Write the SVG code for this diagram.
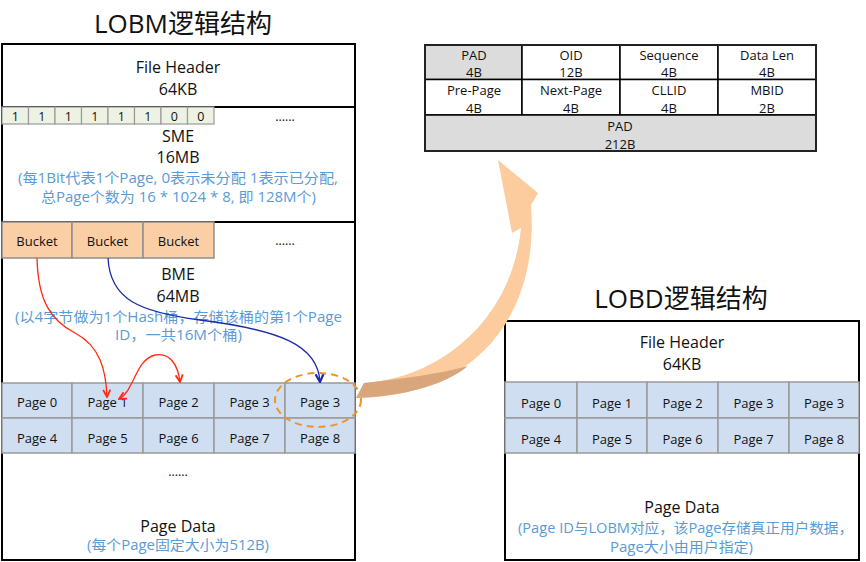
<svg xmlns="http://www.w3.org/2000/svg" width="866" height="562" viewBox="0 0 866 562">
<defs>
<style>
text{font-family:"Open Sans","Noto Sans CJK SC",sans-serif;fill:#111;text-anchor:middle}
.t{font-size:26px}
.h{font-size:16px}
.p{font-size:13px}
.b{font-size:12.5px}
.bl{font-size:14px;fill:#5b9bd5}
.tb{font-size:13px}
.frame{fill:#fff;stroke:#000;stroke-width:2}
.sep{stroke:#000;stroke-width:2}
.pg{fill:#cfdff1;stroke:#9a9a9a;stroke-width:1.5}
.bk{fill:#fbcfa6;stroke:#8e8e8e;stroke-width:1.5}
.bit{fill:#eef2e2;stroke:#9a9a9a;stroke-width:1.2}
.cell{fill:#fff;stroke:#000;stroke-width:1.5}
.gray{fill:#dcdcdc;stroke:#000;stroke-width:1.5}
</style>
<marker id="mr" viewBox="0 0 10 10" refX="9" refY="5" markerWidth="9" markerHeight="9" orient="auto-start-reverse" markerUnits="userSpaceOnUse">
<path d="M1,1 L9,5 L1,9" fill="none" stroke="#ff2a12" stroke-width="2"/>
</marker>
<marker id="mb" viewBox="0 0 10 10" refX="9" refY="5" markerWidth="10" markerHeight="10" orient="auto" markerUnits="userSpaceOnUse">
<path d="M1,1 L9,5 L1,9" fill="none" stroke="#1a2aa8" stroke-width="2.2"/>
</marker>
</defs>

<g id="lobm">
<text class="t" x="183" y="33">LOBM逻辑结构</text>
<rect class="frame" x="2" y="44" width="353" height="516"/>
<line class="sep" x1="2" y1="107" x2="355" y2="107"/>
<line class="sep" x1="2" y1="222" x2="355" y2="222"/>
<text class="h" x="178" y="73">File Header</text>
<text class="h" x="178" y="95">64KB</text>
</g>

<g id="sme">
<rect class="bit" x="2" y="107" width="26.5" height="17"/>
<rect class="bit" x="28.5" y="107" width="26.5" height="17"/>
<rect class="bit" x="55" y="107" width="26.5" height="17"/>
<rect class="bit" x="81.5" y="107" width="26.5" height="17"/>
<rect class="bit" x="108" y="107" width="26.5" height="17"/>
<rect class="bit" x="134.5" y="107" width="26.5" height="17"/>
<rect class="bit" x="161" y="107" width="26.5" height="17"/>
<rect class="bit" x="187.5" y="107" width="26.5" height="17"/>
<text class="b" x="15.3" y="120.5">1</text>
<text class="b" x="41.8" y="120.5">1</text>
<text class="b" x="68.3" y="120.5">1</text>
<text class="b" x="94.8" y="120.5">1</text>
<text class="b" x="121.3" y="120.5">1</text>
<text class="b" x="147.8" y="120.5">1</text>
<text class="b" x="174.3" y="120.5">0</text>
<text class="b" x="200.8" y="120.5">0</text>
<text class="b" x="285" y="121">......</text>
<text class="h" x="178" y="142">SME</text>
<text class="h" x="178" y="163">16MB</text>
<text class="bl" x="178" y="183" textLength="320" lengthAdjust="spacingAndGlyphs">(每1Bit代表1个Page, 0表示未分配 1表示已分配,</text>
<text class="bl" x="178.5" y="202" textLength="275" lengthAdjust="spacingAndGlyphs">总Page个数为  16 * 1024 * 8, 即  128M个)</text>
</g>

<g id="bme">
<rect class="bk" x="2" y="222" width="70" height="36"/>
<rect class="bk" x="72" y="222" width="71" height="36"/>
<rect class="bk" x="143" y="222" width="71" height="36"/>
<text class="p" x="37" y="246">Bucket</text>
<text class="p" x="107.5" y="246">Bucket</text>
<text class="p" x="178.5" y="246">Bucket</text>
<text class="b" x="285" y="245">......</text>
<text class="h" x="178" y="280">BME</text>
<text class="h" x="178" y="302">64MB</text>
<text class="bl" x="178.5" y="322" textLength="327" lengthAdjust="spacingAndGlyphs">(以4字节做为1个Hash桶，存储该桶的第1个Page</text>
<text class="bl" x="178.5" y="340" textLength="127" lengthAdjust="spacingAndGlyphs">ID，一共16M个桶)</text>
</g>

<g id="lobm-pages">
<rect class="pg" x="2" y="383" width="70" height="35"/>
<rect class="pg" x="72" y="383" width="71" height="35"/>
<rect class="pg" x="143" y="383" width="71" height="35"/>
<rect class="pg" x="214" y="383" width="71" height="35"/>
<rect class="pg" x="285" y="383" width="70" height="35"/>
<rect class="pg" x="2" y="418" width="70" height="35"/>
<rect class="pg" x="72" y="418" width="71" height="35"/>
<rect class="pg" x="143" y="418" width="71" height="35"/>
<rect class="pg" x="214" y="418" width="71" height="35"/>
<rect class="pg" x="285" y="418" width="70" height="35"/>
<text class="p" x="37" y="407">Page 0</text>
<text class="p" x="107.5" y="407">Page 1</text>
<text class="p" x="178.5" y="407">Page 2</text>
<text class="p" x="249.5" y="407">Page 3</text>
<text class="p" x="320" y="407">Page 3</text>
<text class="p" x="37" y="443">Page 4</text>
<text class="p" x="107.5" y="443">Page 5</text>
<text class="p" x="178.5" y="443">Page 6</text>
<text class="p" x="249.5" y="443">Page 7</text>
<text class="p" x="320" y="443">Page 8</text>
<text class="b" x="178" y="476">......</text>
<text class="h" x="178" y="532">Page Data</text>
<text class="bl" x="178" y="550" textLength="182" lengthAdjust="spacingAndGlyphs">(每个Page固定大小为512B)</text>
</g>

<g id="page-layout">
<rect class="gray" x="425" y="45" width="97" height="34.5"/>
<rect class="cell" x="522" y="45" width="98" height="34.5"/>
<rect class="cell" x="620" y="45" width="98" height="34.5"/>
<rect class="cell" x="718" y="45" width="98" height="34.5"/>
<rect class="cell" x="425" y="79.5" width="97" height="35.5"/>
<rect class="cell" x="522" y="79.5" width="98" height="35.5"/>
<rect class="cell" x="620" y="79.5" width="98" height="35.5"/>
<rect class="cell" x="718" y="79.5" width="98" height="35.5"/>
<rect class="gray" x="425" y="115" width="391" height="36"/>
<rect x="425" y="45" width="391" height="106" fill="none" stroke="#222" stroke-width="2"/>
<text class="tb" x="474" y="60">PAD</text>
<text class="tb" x="474" y="77">4B</text>
<text class="tb" x="571" y="60">OID</text>
<text class="tb" x="571" y="77">12B</text>
<text class="tb" x="669" y="60">Sequence</text>
<text class="tb" x="669" y="77">4B</text>
<text class="tb" x="767" y="60">Data Len</text>
<text class="tb" x="767" y="77">4B</text>
<text class="tb" x="474" y="95">Pre-Page</text>
<text class="tb" x="474" y="113">4B</text>
<text class="tb" x="571" y="95">Next-Page</text>
<text class="tb" x="571" y="113">4B</text>
<text class="tb" x="669" y="95">CLLID</text>
<text class="tb" x="669" y="113">4B</text>
<text class="tb" x="767" y="95">MBID</text>
<text class="tb" x="767" y="113">2B</text>
<text class="tb" x="620" y="131">PAD</text>
<text class="tb" x="620" y="149">212B</text>
</g>

<g id="lobd">
<text class="t" x="681" y="308">LOBD逻辑结构</text>
<rect class="frame" x="505" y="321" width="354" height="239"/>
<text class="h" x="682" y="348">File Header</text>
<text class="h" x="682" y="370">64KB</text>
<rect class="pg" x="505" y="382" width="72" height="36"/>
<rect class="pg" x="577" y="382" width="70" height="36"/>
<rect class="pg" x="647" y="382" width="71" height="36"/>
<rect class="pg" x="718" y="382" width="71" height="36"/>
<rect class="pg" x="789" y="382" width="70" height="36"/>
<rect class="pg" x="505" y="418" width="72" height="35"/>
<rect class="pg" x="577" y="418" width="70" height="35"/>
<rect class="pg" x="647" y="418" width="71" height="35"/>
<rect class="pg" x="718" y="418" width="71" height="35"/>
<rect class="pg" x="789" y="418" width="70" height="35"/>
<text class="p" x="541" y="408">Page 0</text>
<text class="p" x="612" y="408">Page 1</text>
<text class="p" x="682.5" y="408">Page 2</text>
<text class="p" x="753.5" y="408">Page 3</text>
<text class="p" x="824" y="408">Page 3</text>
<text class="p" x="541" y="444">Page 4</text>
<text class="p" x="612" y="444">Page 5</text>
<text class="p" x="682.5" y="444">Page 6</text>
<text class="p" x="753.5" y="444">Page 7</text>
<text class="p" x="824" y="444">Page 8</text>
<text class="h" x="682" y="513">Page Data</text>
<text class="bl" x="685.5" y="533" textLength="335" lengthAdjust="spacingAndGlyphs">(Page ID与LOBM对应，该Page存储真正用户数据，</text>
<text class="bl" x="681.5" y="552" textLength="143" lengthAdjust="spacingAndGlyphs">Page大小由用户指定)</text>
</g>

<g id="connectors">
<path d="M37,258 C38,300 50,320 75,333 C100,346 106,370 107,397" fill="none" stroke="#ff2a12" stroke-width="1.3" marker-end="url(#mr)"/>
<path d="M119,399 C135,390 135,360 155,355 C170,352 178,365 180,382" fill="none" stroke="#ff2a12" stroke-width="1.3" marker-start="url(#mr)" marker-end="url(#mr)"/>
<path d="M108,258 C110,300 140,312 200,320 C280,330 318,345 320,382" fill="none" stroke="#1a2aa8" stroke-width="1.3" marker-end="url(#mb)"/>
<ellipse cx="318" cy="400" rx="43" ry="27" fill="none" stroke="#f0922a" stroke-width="2" stroke-dasharray="7,5"/>
<path d="M364,383 C440,378 512,320 521,228 L512,233 L498,160 L538,193 L531,205 C540,320 470,398 356,398 Z" fill="#fccb9e"/>
<path d="M356,398 L364,383 C400,379 440,374 468,366 C445,385 405,396 356,398 Z" fill="#d9a67c"/>
</g>
</svg>
